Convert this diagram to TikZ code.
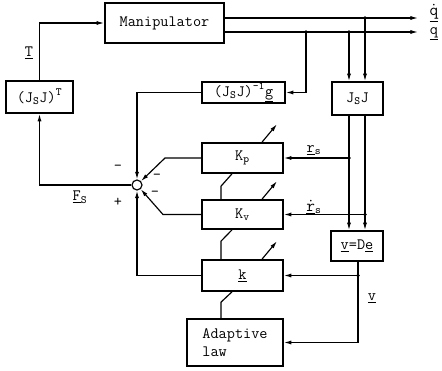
\documentclass[tikz,border=0pt]{standalone}
\usetikzlibrary{arrows.meta}

\tikzset{
  blk/.style={draw,line width=1.4pt,inner sep=1pt,font=\ttfamily\fontsize{13.5}{15}\selectfont},
  arr/.style={-{Latex[length=6.5pt,width=3.5pt]}},
  lbl/.style={inner sep=0pt,font=\ttfamily\fontsize{13.5}{15}\selectfont},
}

\begin{document}
\begin{tikzpicture}[x=0.03cm,y=-0.03cm,line width=1pt]
\useasboundingbox (0,0) rectangle (442,371);

% blocks
\node[blk,minimum width=3.57cm,minimum height=1.2cm] (manip) at (164.5,23) {Manipulator};
\node[blk,minimum width=2.01cm,minimum height=0.96cm] (jtr) at (39.5,97) {(J\textsubscript{S}J)\textsuperscript{T}};
\node[blk,minimum width=2.49cm,minimum height=0.63cm] (jinv) at (243.5,92.5) {(J\textsubscript{S}J)\textsuperscript{-1}\underline{g}};
\node[blk,minimum width=1.53cm,minimum height=0.99cm] (jsj) at (357.5,98.5) {J\textsubscript{S}J};
\node[blk,minimum width=2.43cm,minimum height=0.9cm] (kp) at (242.5,158) {K\textsubscript{p}};
\node[blk,minimum width=2.43cm,minimum height=0.87cm] (kv) at (242.5,214.5) {K\textsubscript{v}};
\node[blk,minimum width=2.43cm,minimum height=0.93cm] (kk) at (242.5,275.5) {\underline{k}};
\node[blk,minimum width=1.56cm,minimum height=0.9cm] (vde) at (357,246) {\underline{v}=D\underline{e}};
\node[blk,minimum width=2.88cm,minimum height=1.41cm,align=left] (adapt) at (235,342.5) {Adaptive\\law};
\node[draw,circle,minimum size=0.3cm,inner sep=0pt] (sum) at (137,185) {};

% helper columns
\coordinate (qdend) at (418,18);
\coordinate (qend) at (418,32);
\coordinate (tqd) at (365,0);
\coordinate (tq) at (349,0);
\coordinate (tg) at (306,0);
\coordinate (tv) at (358,0);
\coordinate (bp) at (165,0);
\coordinate (bv) at (163,0);
\coordinate (gx) at (221,0);
\coordinate (gs) at (232,0);
\coordinate (ga) at (262,0);

% manipulator outputs
\draw[arr] (manip.east |- qdend) -- (qdend);
\draw[arr] (manip.east |- qend) -- (qend);
\draw[arr] (tqd |- qdend) -- (jsj.north -| tqd);
\draw[arr] (tq |- qend) -- (jsj.north -| tq);
\draw[arr] (tg |- qend) -- (tg |- jinv.east) -- (jinv.east);
\draw[arr] (jinv.west) -- (sum |- jinv.west) -- (sum.north);

% JsJ outputs
\draw[arr] (jsj.south -| tq) -- (vde.north -| tq);
\draw[arr] (jsj.south -| tqd) -- (vde.north -| tqd);
\draw[arr] (tq |- kp.east) -- (kp.east);
\draw[arr] (tqd |- kv.east) -- (kv.east);
\draw[arr] (vde.south -| tv) -- (tv |- adapt.east) -- (adapt.east);
\draw[arr] (tv |- kk.east) -- (kk.east);

% gains into the sum
\draw[arr] (kp.west) -- (bp |- kp.west) -- (sum);
\draw[arr] (kv.west) -- (bv |- kv.west) -- (sum);
\draw[arr] (kk.west) -- (sum |- kk.west) -- (sum.south);
\draw[arr] (sum.west) -- (jtr.south |- sum.west) -- (jtr.south);
\draw[arr] (jtr.north) -- (jtr.north |- manip.west) -- (manip.west);

% adjustable gains
\draw[arr] (kp.north -| ga) -- ++(15,-18);
\draw[arr] (kv.north -| ga) -- ++(15,-18);
\draw[arr] (kk.north -| ga) -- ++(15,-18);
\draw (adapt.north -| gx) -- ++(0,-16) -- (kk.south -| gs);
\draw (kk.north -| gx) -- ++(0,-18) -- (kv.south -| gs);
\draw (kv.north -| gx) -- ++(0,-13) -- (kp.south -| gs);

% branch points
\fill (tqd |- qdend) circle (1.5pt);
\fill (tq |- qend) circle (1.5pt);
\fill (tg |- qend) circle (1.5pt);
\fill (tq |- kp.east) circle (1.5pt);
\fill (tqd |- kv.east) circle (1.5pt);
\fill (tv |- kk.east) circle (1.5pt);

% labels
\node[lbl] (lqd) at (434,13) {\underline{$\dot{\mathtt{q}}$}};
\node[lbl] (lq) at (434,34) {\underline{q}};
\node[lbl] (lt) at (29,53) {\underline{T}};
\node[lbl] (lf) at (80,197) {\underline{F}\textsubscript{S}};
\node[lbl] (lr) at (314,150) {\underline{r}\textsubscript{s}};
\node[lbl] (lrd) at (314,207) {\underline{$\dot{\mathtt{r}}$}\textsubscript{s}};
\node[lbl] (lv) at (372,298) {\underline{v}};
\node[lbl] (s1) at (118,168) {-};
\node[lbl] (s2) at (157,177) {-};
\node[lbl] (s3) at (155,194) {-};
\node[lbl] (s4) at (118,202) {+};

\end{tikzpicture}
\end{document}
